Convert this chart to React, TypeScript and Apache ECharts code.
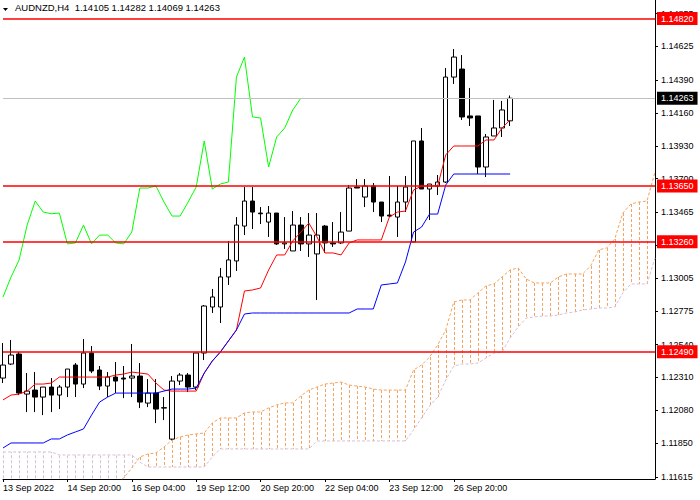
import React, { useEffect, useRef } from 'react';
import * as echarts from 'echarts';

const FONT = '"Liberation Sans", Arial, sans-serif';

// x axis: one slot per H4 bar (82 slots, 64 candles + cloud projection)
const SLOT_COUNT = 82;
const xTickIndex = [0, 8, 16, 24, 32, 40, 48, 56];
const xTickText = ['13 Sep 2022', '14 Sep 20:00', '16 Sep 04:00', '19 Sep 12:00', '20 Sep 20:00', '22 Sep 04:00', '23 Sep 12:00', '26 Sep 20:00'];

// right price scale
const yTicks = [1.11615, 1.1185, 1.1208, 1.1231, 1.1254, 1.12775, 1.13005, 1.13235, 1.13465, 1.137, 1.1393, 1.1416, 1.1439, 1.14625, 1.14855];
const yMin = 1.116;
const yMax = 1.1495;

// horizontal levels
const levels = [1.1482, 1.1365, 1.1326, 1.1249];
const lastPrice = 1.14263;

// candles: [open, close, low, high]
const candles: number[][] = [
  [1.12306, 1.12397, 1.12271, 1.12551],
  [1.12404, 1.12467, 1.12397, 1.12572],
  [1.12474, 1.12201, 1.12187, 1.12488],
  [1.12194, 1.12215, 1.12068, 1.12341],
  [1.12222, 1.12173, 1.12068, 1.12348],
  [1.12173, 1.12243, 1.12047, 1.12243],
  [1.12243, 1.12187, 1.12068, 1.12306],
  [1.12187, 1.12243, 1.12089, 1.12257],
  [1.12243, 1.12369, 1.12173, 1.12369],
  [1.12397, 1.12264, 1.12173, 1.12411],
  [1.12264, 1.12481, 1.12236, 1.12579],
  [1.12481, 1.12355, 1.12341, 1.1253],
  [1.12362, 1.1225, 1.12222, 1.1239],
  [1.1225, 1.12313, 1.12173, 1.12348],
  [1.12313, 1.12285, 1.12201, 1.12418],
  [1.12306, 1.12299, 1.12166, 1.1239],
  [1.12306, 1.1232, 1.12173, 1.12544],
  [1.1232, 1.12138, 1.12096, 1.12411],
  [1.12131, 1.12201, 1.12103, 1.12299],
  [1.12201, 1.12089, 1.11991, 1.12299],
  [1.12096, 1.12099, 1.12012, 1.12173],
  [1.11879, 1.12285, 1.11872, 1.1232],
  [1.12285, 1.12327, 1.12257, 1.12341],
  [1.12327, 1.12243, 1.12208, 1.12341],
  [1.12243, 1.12481, 1.12222, 1.12481],
  [1.12481, 1.1281, 1.12432, 1.12817],
  [1.12803, 1.12873, 1.12761, 1.12929],
  [1.12803, 1.13013, 1.12691, 1.13076],
  [1.13013, 1.13132, 1.12957, 1.13265],
  [1.13125, 1.13376, 1.13055, 1.13432],
  [1.13369, 1.13544, 1.13306, 1.13642],
  [1.13544, 1.13467, 1.13348, 1.13642],
  [1.1346, 1.13455, 1.13383, 1.13502],
  [1.13397, 1.1346, 1.13293, 1.13509],
  [1.1346, 1.13244, 1.13237, 1.1346],
  [1.13244, 1.13251, 1.13209, 1.13432],
  [1.13195, 1.13376, 1.13195, 1.13474],
  [1.13376, 1.13244, 1.13195, 1.13432],
  [1.13244, 1.13306, 1.13153, 1.1346],
  [1.13174, 1.13306, 1.12852, 1.1346],
  [1.13369, 1.13251, 1.13181, 1.13376],
  [1.13251, 1.13244, 1.13223, 1.13397],
  [1.13251, 1.13327, 1.13244, 1.13467],
  [1.13334, 1.13635, 1.13334, 1.13656],
  [1.13642, 1.13635, 1.13635, 1.13698],
  [1.13572, 1.13649, 1.13502, 1.13698],
  [1.13649, 1.13537, 1.13467, 1.1367],
  [1.13537, 1.13439, 1.13397, 1.13537],
  [1.13446, 1.13439, 1.13432, 1.13719],
  [1.13432, 1.13537, 1.13293, 1.13649],
  [1.13537, 1.13642, 1.13467, 1.13719],
  [1.13258, 1.13964, 1.13258, 1.13964],
  [1.13964, 1.13628, 1.13628, 1.14055],
  [1.13628, 1.13663, 1.13411, 1.13663],
  [1.13649, 1.13677, 1.13586, 1.13726],
  [1.13677, 1.14411, 1.1367, 1.14474],
  [1.14411, 1.14551, 1.14363, 1.14607],
  [1.14467, 1.14132, 1.14111, 1.14565],
  [1.14139, 1.14125, 1.14069, 1.14335],
  [1.14139, 1.13782, 1.13733, 1.14139],
  [1.13782, 1.13992, 1.13712, 1.14013],
  [1.13999, 1.14055, 1.13999, 1.14251],
  [1.14055, 1.14181, 1.13992, 1.14244],
  [1.14105, 1.14263, 1.14069, 1.14282],
];

// Tenkan-sen (red)
const tenkan = [
  1.12153, 1.12187, 1.12194, 1.12215, 1.12264, 1.12264, 1.12271, 1.12313, 1.12313, 1.12313,
  1.12313, 1.12313, 1.12313, 1.12313, 1.12327, 1.12334, 1.12348, 1.12341, 1.12334, 1.12271,
  1.12222, 1.12215, 1.12215, 1.12215, 1.12215, 1.12341, 1.12425, 1.12488, 1.12565, 1.12642,
  1.12915, 1.12922, 1.12936, 1.13062, 1.13167, 1.13167, 1.13265, 1.13327, 1.1339, 1.13293,
  1.13181, 1.13181, 1.13167, 1.13251, 1.13272, 1.13272, 1.13272, 1.13272, 1.13432, 1.13467,
  1.13474, 1.13621, 1.13649, 1.13649, 1.13649, 1.13866, 1.13929, 1.13929, 1.13929, 1.13929,
  1.13971, 1.13971, 1.14055, 1.14111,
];

// Kijun-sen (blue)
const kijun = [
  1.11817, 1.11852, 1.11852, 1.11852, 1.11852, 1.11852, 1.1188, 1.1188, 1.11908, 1.11929,
  1.1195, 1.12047, 1.12138, 1.12173, 1.12201, 1.12201, 1.12201, 1.12201, 1.12201, 1.12201,
  1.12215, 1.12229, 1.12229, 1.12229, 1.12236, 1.12341, 1.12425, 1.12488, 1.12565, 1.12642,
  1.12754, 1.12761, 1.12761, 1.12761, 1.12761, 1.12761, 1.12761, 1.12761, 1.12761, 1.12761,
  1.12761, 1.12761, 1.12761, 1.12761, 1.12789, 1.12789, 1.12789, 1.12957, 1.12964, 1.12971,
  1.13118, 1.13327, 1.13362, 1.13453, 1.13453, 1.13656, 1.13733, 1.13733, 1.13733, 1.13733,
  1.13733, 1.13733, 1.13733, 1.13733,
];

// Senkou Span A (sandy brown) and B (thistle), projected 26 bars ahead
const senkouA = [
  1.1157, 1.1157, 1.1157, 1.1157, 1.1157, 1.1157, 1.1157, 1.1157, 1.1157, 1.1157,
  1.1157, 1.1157, 1.1157, 1.1157, 1.1157, 1.11607, 1.11677, 1.11754, 1.11775, 1.11782,
  1.11824, 1.11873, 1.11894, 1.11908, 1.11915, 1.11922, 1.11992, 1.12027, 1.12027, 1.12027,
  1.12062, 1.12069, 1.12069, 1.12097, 1.12118, 1.12132, 1.12132, 1.12181, 1.12222, 1.12243,
  1.12264, 1.12271, 1.12278, 1.12257, 1.1225, 1.12243, 1.12229, 1.12222, 1.12222, 1.12222,
  1.12222, 1.12362, 1.12397, 1.12453, 1.12537, 1.12642, 1.12838, 1.12852, 1.12852, 1.12901,
  1.1295, 1.12964, 1.13013, 1.13062, 1.13076, 1.12999, 1.12971, 1.12971, 1.12971, 1.13013,
  1.13034, 1.13034, 1.13034, 1.1309, 1.13202, 1.13216, 1.13279, 1.1346, 1.13523, 1.13537,
  1.13544, 1.13747,
];
const senkouB = [
  1.11789, 1.11789, 1.11789, 1.11789, 1.11789, 1.11789, 1.11789, 1.11768, 1.11768, 1.11768,
  1.11768, 1.11768, 1.11768, 1.11768, 1.11768, 1.11768, 1.11768, 1.11719, 1.11684, 1.11684,
  1.11684, 1.11684, 1.11684, 1.11684, 1.11684, 1.11684, 1.11754, 1.1181, 1.1181, 1.1181,
  1.1181, 1.1181, 1.1181, 1.1181, 1.1181, 1.1181, 1.1181, 1.1181, 1.1181, 1.11866,
  1.11866, 1.11866, 1.11866, 1.11866, 1.11866, 1.11866, 1.11866, 1.11866, 1.11866, 1.11866,
  1.11866, 1.11943, 1.12027, 1.12111, 1.12173, 1.12292, 1.1239, 1.12404, 1.12404, 1.12411,
  1.12446, 1.12481, 1.12488, 1.12586, 1.12663, 1.12726, 1.12733, 1.1274, 1.1274, 1.12747,
  1.12761, 1.12768, 1.12782, 1.12789, 1.12796, 1.12796, 1.12803, 1.12901, 1.12964, 1.12964,
  1.12964, 1.13146,
];

const ORANGE = '#F4A460';
const THISTLE = '#D8BFD8';

export default function App() {
  const ref = useRef<HTMLDivElement>(null);

  useEffect(() => {
    if (!ref.current) return;
    const chart = echarts.init(ref.current, null, { renderer: 'svg' });

    const cats = Array.from({ length: SLOT_COUNT }, (_, i) => String(i));
    const labelOf = (i: number) => {
      const j = xTickIndex.indexOf(i);
      return j >= 0 ? xTickText[j] : '';
    };
    const showTick = (i: number) => xTickIndex.indexOf(i) >= 0;

    // Chikou span: close shifted 26 bars back
    const chikou = candles.map((_, i) => (i + 26 < candles.length ? candles[i + 26][1] : null));
    const cloudData = senkouA.map((a, i) => [i, a, senkouB[i]]);

    const levelLines: any[] = levels.map((v) => ({
      yAxis: v,
      lineStyle: { color: '#FF0000', width: 1.5, type: 'solid', opacity: 1 },
      label: { formatter: v.toFixed(5), backgroundColor: '#FF0000' },
    }));
    levelLines.unshift({
      yAxis: lastPrice,
      lineStyle: { color: '#C0C0C0', width: 1, type: 'solid', opacity: 1 },
      label: { formatter: lastPrice.toFixed(5), backgroundColor: '#000000' },
    });

    chart.setOption({
      animation: false,
      backgroundColor: '#FFFFFF',
      grid: { left: -1, top: 0, width: 656, height: 479 },
      xAxis: {
        type: 'category',
        data: cats,
        boundaryGap: false,
        axisLine: { show: true, lineStyle: { color: '#000000', width: 1 } },
        axisTick: { show: true, interval: (i: number) => showTick(i), length: 3, lineStyle: { color: '#000000' } },
        axisLabel: {
          interval: (i: number) => showTick(i),
          formatter: (_v: string, i: number) => labelOf(i),
          align: 'left',
          margin: 4,
          color: '#000000',
          fontSize: 9,
          fontFamily: FONT,
        },
        splitLine: { show: false },
      },
      yAxis: {
        type: 'value',
        position: 'right',
        min: yMin,
        max: yMax,
        splitLine: { show: false },
        axisLine: { show: true, lineStyle: { color: '#000000', width: 1 } },
        axisTick: { show: true, length: 3, customValues: yTicks, lineStyle: { color: '#000000' } },
        axisLabel: {
          customValues: yTicks,
          formatter: (v: number) => v.toFixed(5),
          color: '#000000',
          fontSize: 9,
          fontFamily: FONT,
          margin: 6,
        },
      },
      graphic: [
        { type: 'polygon', shape: { points: [[3, 8], [8, 8], [5.5, 11]] }, style: { fill: '#000000' } },
        {
          type: 'text',
          x: 15,
          y: 7.5,
          style: {
            text: 'AUDNZD,H4  1.14105 1.14282 1.14069 1.14263',
            fill: '#000000',
            font: `9.5px ${FONT}`,
            verticalAlign: 'middle',
          },
        },
      ],
      series: [
        {
          type: 'custom',
          name: 'cloud',
          z: 1,
          clip: true,
          data: cloudData,
          encode: { x: 0, y: [1, 2] },
          renderItem: (_params: any, api: any) => {
            const i = api.value(0);
            const a = api.value(1);
            const b = api.value(2);
            const pa = api.coord([i, a]);
            const pb = api.coord([i, b]);
            const x = Math.round(pa[0]) + 0.5;
            return {
              type: 'line',
              shape: { x1: x, y1: pa[1], x2: x, y2: pb[1] },
              style: { stroke: a >= b ? ORANGE : THISTLE, lineWidth: 1, lineDash: [3, 2] },
            };
          },
        },
        {
          type: 'line',
          name: 'Senkou A',
          z: 1,
          data: senkouA,
          symbol: 'none',
          lineStyle: { color: ORANGE, width: 1, type: [3, 2] },
        },
        {
          type: 'line',
          name: 'Senkou B',
          z: 1,
          data: senkouB,
          symbol: 'none',
          lineStyle: { color: THISTLE, width: 1, type: [3, 2] },
        },
        {
          type: 'candlestick',
          name: 'AUDNZD',
          z: 2,
          data: candles,
          barWidth: 5,
          itemStyle: {
            color: '#FFFFFF',
            color0: '#000000',
            borderColor: '#000000',
            borderColor0: '#000000',
            borderWidth: 1,
          },
        },
        {
          type: 'line',
          name: 'Chikou',
          z: 3,
          data: chikou,
          symbol: 'none',
          lineStyle: { color: '#00FF00', width: 1 },
        },
        {
          type: 'line',
          name: 'Tenkan',
          z: 3,
          data: tenkan,
          symbol: 'none',
          lineStyle: { color: '#FF0000', width: 1 },
        },
        {
          type: 'line',
          name: 'Kijun',
          z: 4,
          data: kijun,
          symbol: 'none',
          lineStyle: { color: '#0000FF', width: 1 },
          markLine: {
            silent: true,
            symbol: ['none', 'none'],
            animation: false,
            precision: 5,
            lineStyle: { color: '#FF0000', width: 1.5, type: 'solid', opacity: 1 },
            label: {
              show: true,
              position: 'end',
              distance: 2,
              color: '#FFFFFF',
              fontSize: 9,
              fontFamily: FONT,
              padding: [2, 4, 1, 4],
              lineHeight: 10,
            },
            data: levelLines,
          },
        },
      ],
    });

    return () => chart.dispose();
  }, []);

  return (
    <div
      ref={ref}
      style={{ position: 'absolute', left: 0, top: 0, width: 700, height: 500, background: '#FFFFFF' }}
    />
  );
}
